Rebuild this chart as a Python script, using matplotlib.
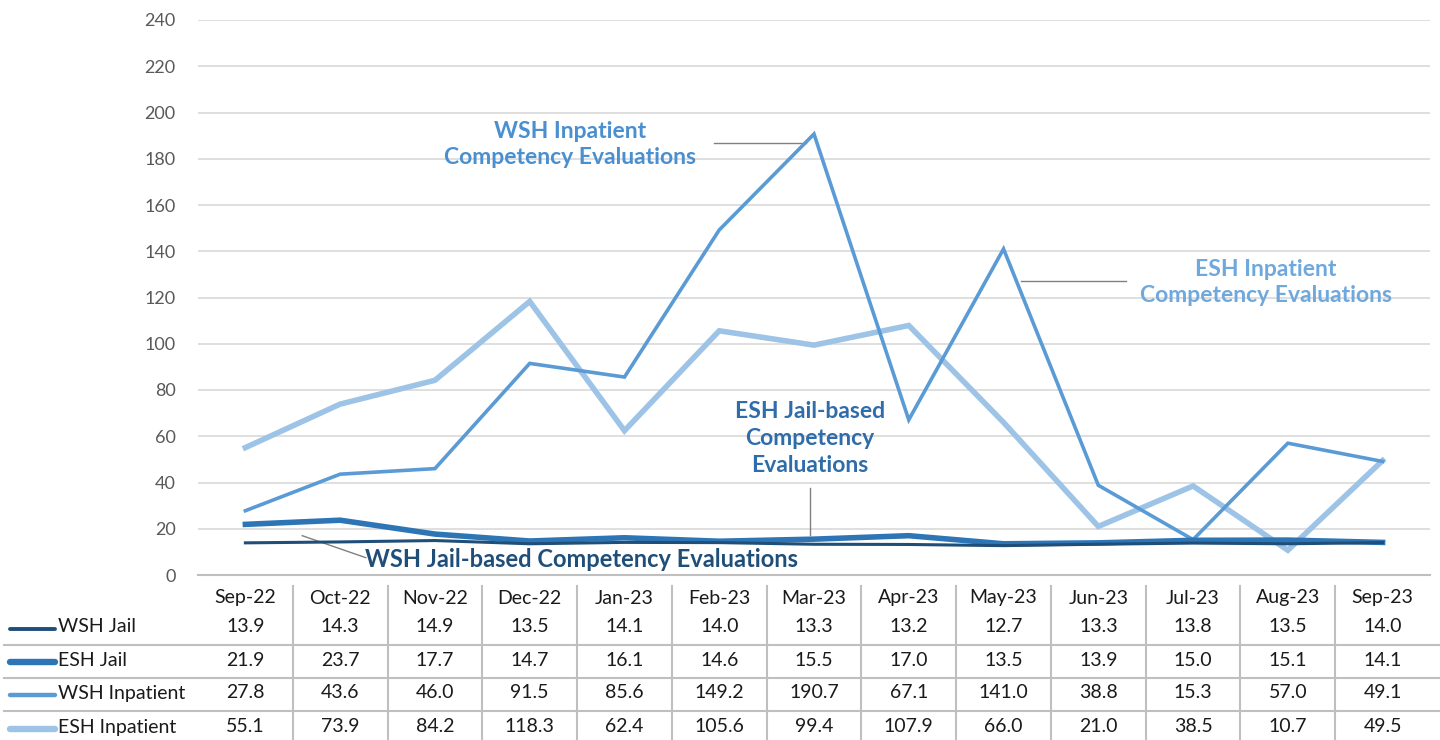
import matplotlib.pyplot as plt
import matplotlib.transforms as mtrans
from matplotlib.lines import Line2D

plt.rcParams['font.family'] = ['Lato', 'DejaVu Sans']

months = ["Sep-22", "Oct-22", "Nov-22", "Dec-22", "Jan-23", "Feb-23", "Mar-23",
          "Apr-23", "May-23", "Jun-23", "Jul-23", "Aug-23", "Sep-23"]
wsh_jail = [13.9, 14.3, 14.9, 13.5, 14.1, 14.0, 13.3, 13.2, 12.7, 13.3, 13.8, 13.5, 14.0]
esh_jail = [21.9, 23.7, 17.7, 14.7, 16.1, 14.6, 15.5, 17.0, 13.5, 13.9, 15.0, 15.1, 14.1]
wsh_inpatient = [27.8, 43.6, 46.0, 91.5, 85.6, 149.2, 190.7, 67.1, 141.0, 38.8, 15.3, 57.0, 49.1]
esh_inpatient = [55.1, 73.9, 84.2, 118.3, 62.4, 105.6, 99.4, 107.9, 66.0, 21.0, 38.5, 10.7, 49.5]

series = [
    ("WSH Jail", wsh_jail, "#1F4E79", 2.2),
    ("ESH Jail", esh_jail, "#2E75B6", 4.0),
    ("WSH Inpatient", wsh_inpatient, "#5B9BD5", 2.6),
    ("ESH Inpatient", esh_inpatient, "#9DC3E6", 4.0),
]

fig = plt.figure(figsize=(14.4, 7.4), dpi=100)
ax = fig.add_axes([198 / 1440, 1 - 575 / 740, 1232 / 1440, 555 / 740])

x = list(range(len(months)))
# draw light lines first so dark jail lines sit on top
for name, vals, col, lw in reversed(series):
    ax.plot(x, vals, color=col, lw=lw, solid_joinstyle="miter", zorder=3)

ax.set_xlim(-0.5, len(months) - 0.5)
ax.set_ylim(0, 240)
ax.set_yticks(range(0, 241, 20))
ax.yaxis.grid(True, color="#D9D9D9", lw=1.2)
ax.set_axisbelow(True)
ax.set_xticks([])
for s in ["top", "right", "left"]:
    ax.spines[s].set_visible(False)
ax.spines["bottom"].set_color("#BFBFBF")
ax.spines["bottom"].set_linewidth(1.5)
ax.tick_params(axis="y", length=0, labelsize=13, labelcolor="#595959", pad=16)

# --- annotations ---
lead = dict(color="#808080", lw=1)
ax.text(3.43, 186, "WSH Inpatient\nCompetency Evaluations", ha="center", va="center",
        fontsize=16.5, fontweight="bold", color="#4A8FD0", linespacing=1.3)
ax.plot([4.95, 5.92], [186.8, 186.8], **lead)
ax.text(10.77, 126.5, "ESH Inpatient\nCompetency Evaluations", ha="center", va="center",
        fontsize=16.5, fontweight="bold", color="#6FA8DC", linespacing=1.3)
ax.plot([8.18, 9.29], [127.1, 127.1], **lead)
ax.text(5.96, 59, "ESH Jail-based\nCompetency\nEvaluations", ha="center", va="center",
        fontsize=16.5, fontweight="bold", color="#2F6DAA", linespacing=1.35)
ax.plot([5.96, 5.96], [37.6, 17.3], **lead)
ax.text(3.55, 6.5, "WSH Jail-based Competency Evaluations", ha="center", va="center",
        fontsize=17, fontweight="bold", color="#1F4E79")
ax.plot([0.6, 1.27], [17, 7.5], **lead)

# --- data table below the plot ---
px = mtrans.blended_transform_factory(ax.transData, fig.transFigure)


def fy(ypix):
    return 1 - ypix / 740


for i, m in enumerate(months):
    ax.text(i, fy(598), m, transform=px, ha="center", va="center",
            fontsize=14, color="#1A1A1A", clip_on=False)
row_y = [627, 660, 693, 727]
for (name, vals, col, lw), yp in zip(series, row_y):
    for i, v in enumerate(vals):
        ax.text(i, fy(yp), f"{v:.1f}", transform=px, ha="center", va="center",
                fontsize=14, color="#1A1A1A", clip_on=False)
    fig.add_artist(Line2D([10 / 1440, 55 / 1440], [fy(yp + 2)] * 2, color=col,
                          lw=lw + 0.6, solid_capstyle="round"))
    fig.text(58 / 1440, fy(yp), name, ha="left", va="center", fontsize=14, color="#1A1A1A")

for i in range(len(months) - 1):
    ax.add_artist(Line2D([i + 0.5, i + 0.5], [fy(586), 0], transform=px,
                         color="#BFBFBF", lw=1.5, clip_on=False))
for yp in [645, 678, 711]:
    fig.add_artist(Line2D([4 / 1440, 1], [fy(yp)] * 2, color="#BFBFBF", lw=1.5))

fig.savefig("out.png", dpi=100)
